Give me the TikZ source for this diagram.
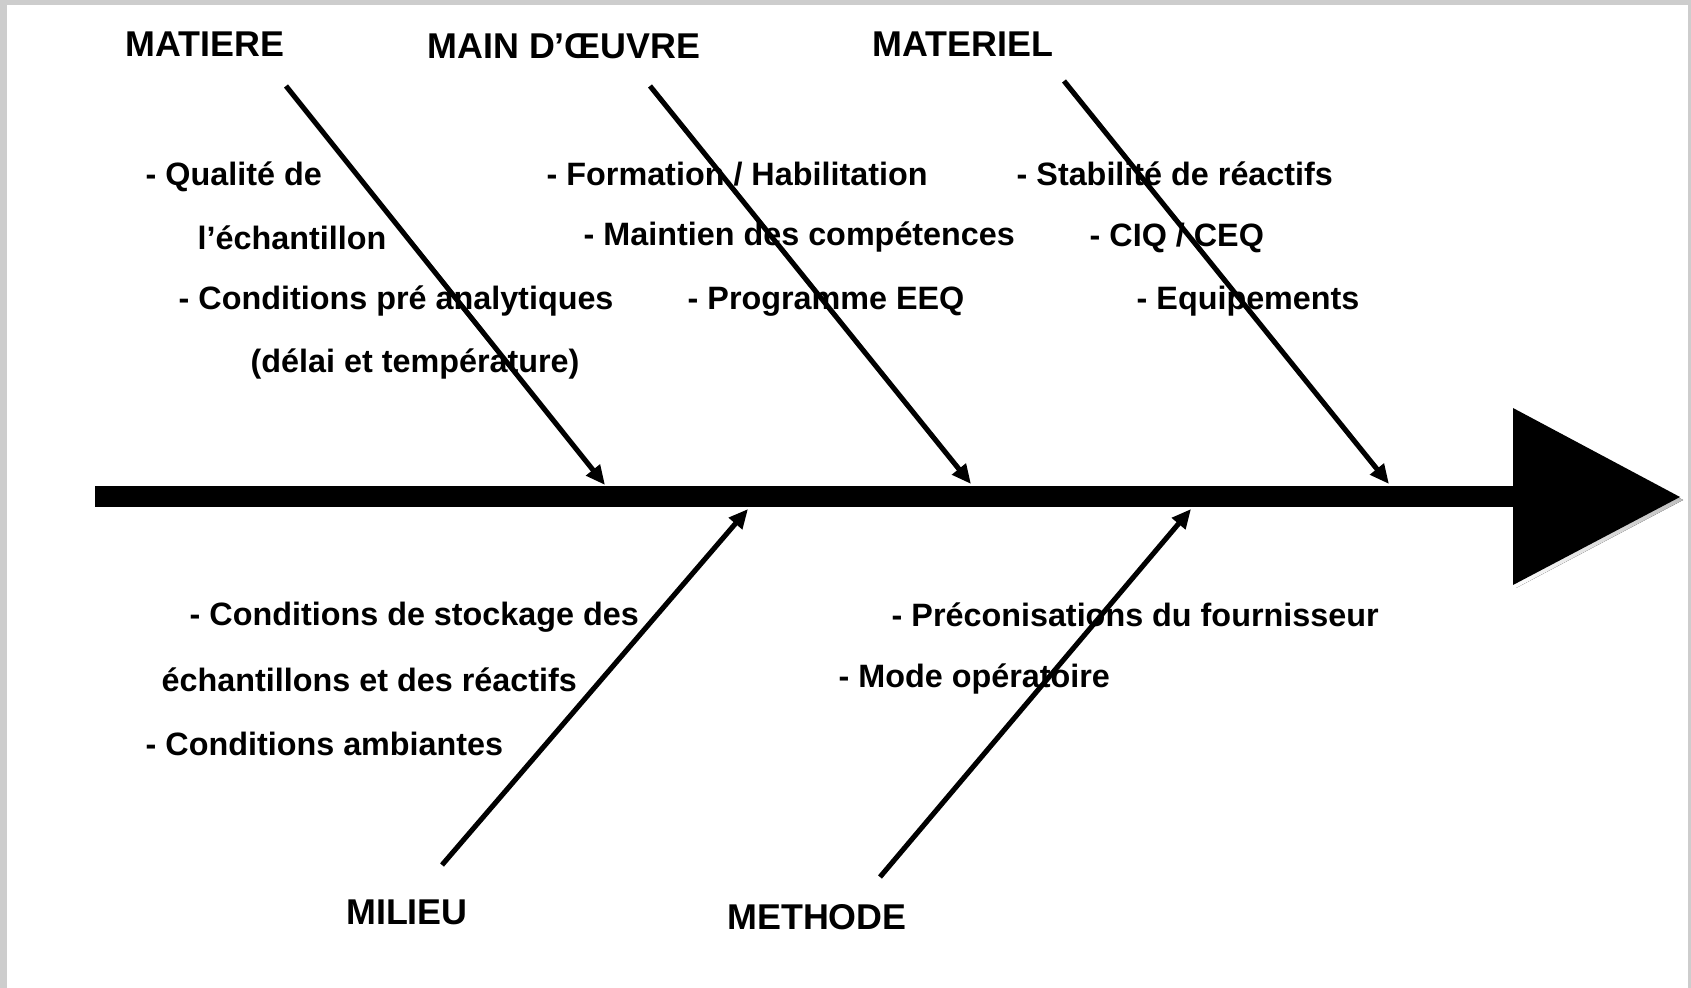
\documentclass[tikz,border=0pt]{standalone}
\usepackage{fontspec}
\setmainfont{Liberation Sans}
\usetikzlibrary{arrows.meta}
\definecolor{frame}{RGB}{205,205,205}
\definecolor{shade}{RGB}{170,170,170}

\begin{document}
\begin{tikzpicture}[
    x=1cm, y=1cm,
    cat/.style={
        inner sep=0, font=\fontsize{10.2}{12}\selectfont\bfseries
    },
    itm/.style={
        anchor=west, inner sep=0, yshift=-0.035cm,
        font=\fontsize{9.2}{11}\selectfont\bfseries
    },
    br/.style={
        line width=1.45pt,
        -{Triangle[length=5.5pt,width=4.8pt]}
    }
]
    % frame
    \fill[frame] (0,0) rectangle (16.91,-9.88);
    \fill[white] (0.07,-0.05) rectangle (16.88,-9.88);
    \useasboundingbox (0,0) rectangle (16.91,-9.88);

    % categories
    \node[cat] (matiere)  at (2.05,-0.44) {MATIERE};
    \node[cat] (oeuvre)   at (5.64,-0.46) {MAIN D’ŒUVRE};
    \node[cat] (materiel) at (9.63,-0.44) {MATERIEL};
    \node[cat] (milieu)   at (4.07,-9.12) {MILIEU};
    \node[cat] (methode)  at (8.17,-9.17) {METHODE};

    % causes
    \node[itm] (qual)   at (1.45,-1.73) {- Qualité de};
    \node[itm] (echant) at (1.97,-2.34) {l’échantillon};
    \node[itm] (preana) at (1.78,-2.98) {- Conditions pré analytiques};
    \node[itm] (delai)  at (2.50,-3.61) {(délai et température)};

    \node[itm] (form)   at (5.46,-1.71) {- Formation / Habilitation};
    \node[itm] (maint)  at (5.83,-2.34) {- Maintien des compétences};
    \node[itm] (eeq)    at (6.87,-2.98) {- Programme EEQ};

    \node[itm] (stab)   at (10.16,-1.70) {- Stabilité de réactifs};
    \node[itm] (ciq)    at (10.89,-2.34) {- CIQ / CEQ};
    \node[itm] (equip)  at (11.36,-2.98) {- Equipements};

    \node[itm] (stock)  at (1.89,-6.14) {- Conditions de stockage des};
    \node[itm] (reac)   at (1.61,-6.76) {échantillons et des réactifs};
    \node[itm] (amb)    at (1.45,-7.40) {- Conditions ambiantes};

    \node[itm] (preco)  at (8.91,-6.11) {- Préconisations du fournisseur};
    \node[itm] (mode)   at (8.38,-6.76) {- Mode opératoire};

    % spine
    \coordinate (tail) at (0.95,-4.97);
    \coordinate (base) at (15.13,-4.97);
    \fill[shade] ([shift={(0.03,-0.03)}]tail) ++(0,0.105) rectangle ([shift={(0.03,-0.03)}]base) ++(0,-0.21);
    \fill[shade] (15.16,-4.11) -- (15.16,-5.88) -- (16.83,-5.00) -- cycle;
    \fill (0.95,-4.865) rectangle (15.14,-5.075);
    \fill (15.13,-4.08) -- (15.13,-5.85) -- (16.80,-4.97) -- cycle;

    % bones
    \coordinate (mat-a) at (2.86,-0.86);
    \coordinate (mat-b) at (6.05,-4.85);
    \coordinate (oeu-a) at (6.50,-0.86);
    \coordinate (oeu-b) at (9.71,-4.84);
    \coordinate (mtl-a) at (10.64,-0.81);
    \coordinate (mtl-b) at (13.89,-4.84);
    \coordinate (mil-a) at (4.42,-8.65);
    \coordinate (mil-b) at (7.48,-5.09);
    \coordinate (met-a) at (8.80,-8.77);
    \coordinate (met-b) at (11.91,-5.09);

    \draw[br] (mat-a) -- (mat-b);
    \draw[br] (oeu-a) -- (oeu-b);
    \draw[br] (mtl-a) -- (mtl-b);
    \draw[br] (mil-a) -- (mil-b);
    \draw[br] (met-a) -- (met-b);
\end{tikzpicture}
\end{document}
